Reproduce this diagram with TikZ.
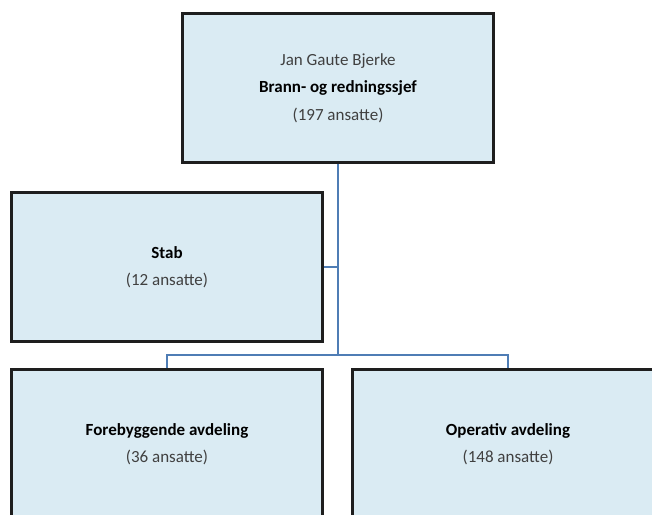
\documentclass[tikz,border=0pt]{standalone}
\usepackage{fontspec}
\setmainfont{Carlito}
\definecolor{boxfill}{HTML}{DAEBF3}
\definecolor{boxline}{HTML}{1E1E1E}
\definecolor{conn}{HTML}{4F7DB5}
\definecolor{txtgray}{HTML}{404040}
\tikzset{
  orgbox/.style={draw=boxline, line width=2.5pt, fill=boxfill, minimum width=311pt, minimum height=149pt, align=center, text=txtgray, font=\fontsize{17}{27.5}\selectfont, inner sep=0pt},
  orgline/.style={draw=conn, line width=2pt, line cap=butt}
}
\begin{document}
\begin{tikzpicture}[x=1pt,y=-1pt]
\useasboundingbox (0,0) rectangle (652,514);
\clip (0,0) rectangle (652,514);
\node[orgbox] (top) at (338,88) {Jan Gaute Bjerke\\\textcolor{black}{\textbf{Brann- og redningssjef}}\\(197 ansatte)};
\node[orgbox] (stab) at (167,267) {\textcolor{black}{\textbf{Stab}}\\(12 ansatte)};
\node[orgbox] (fb) at (167,444) {\textcolor{black}{\textbf{Forebyggende avdeling}}\\(36 ansatte)};
\node[orgbox] (op) at (508,444) {\textcolor{black}{\textbf{Operativ avdeling}}\\(148 ansatte)};
\coordinate (j) at (338,355);
\coordinate (s) at (338,267);
\path[orgline] (top.south) -- (s) -- (j);
\path[orgline] (stab.east) -- (s);
\path[orgline] (fb.north) |- (j) -| (op.north);
\end{tikzpicture}
\end{document}
